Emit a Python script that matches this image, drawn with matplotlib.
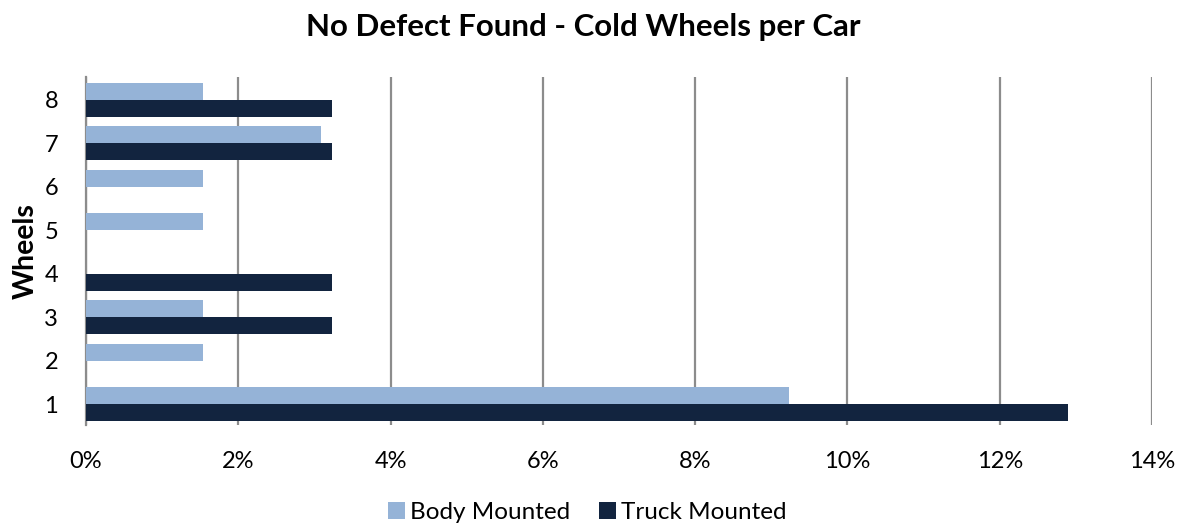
import matplotlib
matplotlib.use("Agg")
import matplotlib.pyplot as plt
import numpy as np
from matplotlib.ticker import FuncFormatter

categories = ["1", "2", "3", "4", "5", "6", "7", "8"]
body_mounted = [9.23, 1.54, 1.54, 0.0, 1.54, 1.54, 3.08, 1.54]
truck_mounted = [12.90, 0.0, 3.23, 3.23, 0.0, 0.0, 3.23, 3.23]
xticks = [0, 2, 4, 6, 8, 10, 12, 14]

plt.rcParams['font.family'] = ['Lato', 'DejaVu Sans']

fig = plt.figure(figsize=(11.84, 5.32), dpi=100)
ax = fig.add_axes([86/1184, 1-425/532, (1152-86)/1184, (425-77)/532])

y = np.arange(1, len(categories) + 1)
h = 0.39
ax.barh(y + h/2, body_mounted, height=h, color="#95B3D7", label="Body Mounted", zorder=3)
ax.barh(y - h/2, truck_mounted, height=h, color="#12243F", label="Truck Mounted", zorder=3)

ax.set_xlim(0, 14)
ax.set_ylim(0.52, 8.52)
ax.set_xticks(xticks)
ax.xaxis.set_major_formatter(FuncFormatter(lambda v, p: f"{v:.0f}%"))
ax.set_yticks(y)
ax.set_yticklabels(categories)
ax.tick_params(axis='both', length=0, labelsize=17)
ax.tick_params(axis='x', pad=19)
ax.tick_params(axis='y', pad=20)
ax.grid(axis='x', color="#8C8C8C", linewidth=1.6, zorder=0)
for s in ["top", "right", "bottom"]:
    ax.spines[s].set_visible(False)
ax.spines["left"].set_color("#8C8C8C")
ax.spines["left"].set_linewidth(1.6)

ax.set_ylabel("Wheels", fontsize=20.5, fontweight="bold", labelpad=4)
fig.suptitle("No Defect Found - Cold Wheels per Car", fontsize=22.5, fontweight="bold",
             x=0.493, y=0.975)

fig.legend(loc="lower center", ncol=2, bbox_to_anchor=(0.496, -0.025), frameon=False,
           fontsize=17.5, handlelength=0.7, handleheight=0.7, handletextpad=0.2, columnspacing=1.2)

fig.savefig("out.png", dpi=100)
